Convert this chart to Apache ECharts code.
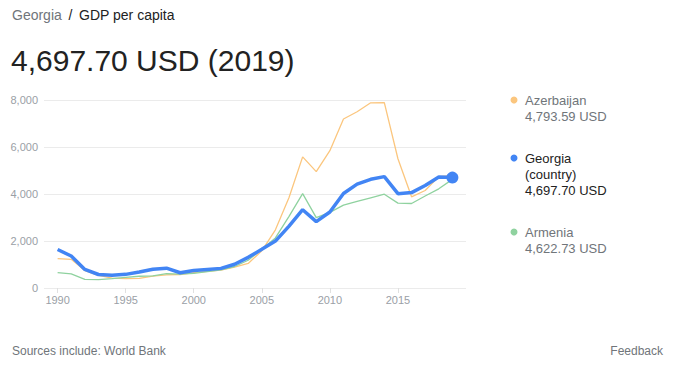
<!DOCTYPE html>
<html>
<head>
<meta charset="utf-8">
<script src="https://cdn.jsdelivr.net/npm/echarts@6/dist/echarts.min.js"></script>
<style>
html,body{margin:0;padding:0;background:#fff;}
#c{width:689px;height:370px;}
</style>
</head>
<body>
<div id="c"></div>
<script>
var years = [1990,1991,1992,1993,1994,1995,1996,1997,1998,1999,2000,2001,2002,2003,2004,2005,2006,2007,2008,2009,2010,2011,2012,2013,2014,2015,2016,2017,2018,2019];
var georgia = [1640,1360,790,575,545,580,680,800,845,650,745,790,835,1010,1305,1645,1995,2635,3330,2825,3235,4020,4420,4625,4740,4015,4060,4360,4720,4697.70];
var azerbaijan = [1250,1220,740,540,420,400,410,505,560,575,655,705,765,885,1045,1580,2475,3850,5580,4950,5845,7190,7500,7880,7890,5500,3880,4150,4740,4793.59];
var armenia = [650,600,370,360,400,455,500,520,610,590,620,695,770,915,1180,1645,2130,3050,4015,2995,3220,3525,3685,3840,3990,3610,3595,3915,4220,4622.73];
var xTicks = [1990,1995,2000,2005,2010,2015];
var yTicks = [0,2000,4000,6000,8000];

var C_GEO = '#4285f4', C_AZE = '#fbc67e', C_ARM = '#8fd29f';
function pairs(v){ return years.map(function(y,i){ return [y, v[i]]; }); }
function fmt(n){ return n.toLocaleString('en-US',{minimumFractionDigits:2,maximumFractionDigits:2}); }
var last = years.length - 1;
var FONT = 'Liberation Sans, Arial, sans-serif';

var chart = echarts.init(document.getElementById('c'), null, {renderer:'svg'});
var legendItems = [
  {name:'Azerbaijan', lines:['Azerbaijan'], value:azerbaijan[last], color:C_AZE, tc:'#70757a', y:100},
  {name:'Georgia', lines:['Georgia','(country)'], value:georgia[last], color:C_GEO, tc:'#222222', y:158},
  {name:'Armenia', lines:['Armenia'], value:armenia[last], color:C_ARM, tc:'#70757a', y:232}
];
var graphics = [
  {type:'text', left:12, top:8, style:{text:'{a|Georgia}  {b|/}  {c|GDP per capita}', rich:{
    a:{fontSize:14, fill:'#70757a', fontFamily:FONT},
    b:{fontSize:14, fill:'#222', fontFamily:FONT},
    c:{fontSize:14, fill:'#222', fontFamily:FONT}}}},
  {type:'text', left:11, top:45, style:{text:fmt(georgia[last]) + ' USD (' + years[last] + ')', fontSize:30, fill:'#222', fontFamily:FONT}},
  {type:'text', left:12, top:345, style:{text:'Sources include: World Bank', fontSize:12, fill:'#70757a', fontFamily:FONT}},
  {type:'text', right:26, top:345, style:{text:'Feedback', fontSize:12, fill:'#70757a', fontFamily:FONT}}
];
legendItems.forEach(function(it){
  graphics.push({type:'circle', shape:{cx:514, cy:it.y, r:3.5}, style:{fill:it.color}});
  var all = it.lines.concat([fmt(it.value) + ' USD']);
  all.forEach(function(t, k){
    graphics.push({type:'text', x:525, y:it.y - 6.5 + k*16, style:{text:t, fontSize:13, fill:it.tc, fontFamily:FONT, textVerticalAlign:'top'}});
  });
});

chart.setOption({
  animation:false,
  grid:{left:44, right:223, top:100, bottom:82},
  xAxis:{type:'value', min:1989, max:2020,
    axisLine:{show:false},
    axisTick:{show:true, customValues:xTicks, length:5, lineStyle:{color:'#e0e0e0'}},
    axisLabel:{customValues:xTicks, color:'#9aa0a6', fontSize:11, fontFamily:FONT, margin:6, formatter:function(v){return String(v);}},
    splitLine:{show:false}},
  yAxis:{type:'value', min:0, max:8000, interval:2000,
    axisLine:{show:false}, axisTick:{show:false},
    axisLabel:{color:'#9aa0a6', fontSize:11, fontFamily:FONT, margin:6, formatter:function(v){return v.toLocaleString('en-US');}},
    splitLine:{lineStyle:{color:'#ebebeb', width:1}}},
  graphic:graphics,
  series:[
    {name:'Azerbaijan', type:'line', data:pairs(azerbaijan), showSymbol:false, lineStyle:{color:C_AZE, width:1.3}, itemStyle:{color:C_AZE}, z:2},
    {name:'Armenia', type:'line', data:pairs(armenia), showSymbol:false, lineStyle:{color:C_ARM, width:1.3}, itemStyle:{color:C_ARM}, z:3},
    {name:'Georgia', type:'line', data:pairs(georgia), symbol:'circle', symbolSize:function(v, p){ return p.dataIndex === last ? 12 : 0; }, showAllSymbol:true,
      lineStyle:{color:C_GEO, width:3.5}, itemStyle:{color:C_GEO}, z:4}
  ]
});
</script>
</body>
</html>
